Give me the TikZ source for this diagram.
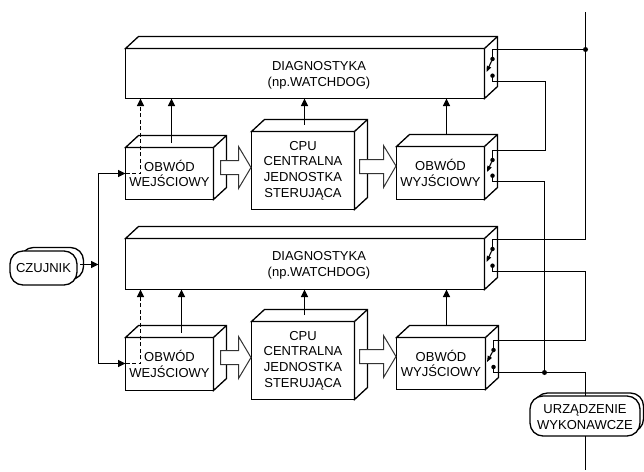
\documentclass[tikz,border=0pt]{standalone}
\usepackage{fontspec}
\setmainfont{Liberation Sans}
\usetikzlibrary{arrows.meta,calc}
\tikzset{
  wire/.style={draw=black,line width=1.3pt,line join=miter},
  arr/.style={wire,-{Triangle[length=7.5pt,width=7pt]}},
  dasharr/.style={arr,dash pattern=on 4pt off 2.5pt},
  swarr/.style={draw=black,line width=1.1pt,-{Triangle[length=6pt,width=4.5pt]}},
  junction/.style={circle,fill=black,inner sep=0pt,minimum size=5pt},
  contact/.style={circle,fill=black,inner sep=0pt,minimum size=4.5pt},
  label/.style={inner sep=0pt,align=center,font=\fontsize{13}{15.8}\selectfont},
  box/.style={draw=black,line width=1.3pt,fill=white,inner sep=0pt,outer sep=0pt,align=center,font=\fontsize{13}{15.8}\selectfont},
  pill/.style={box,rounded corners=13pt},
  bigarrow/.style={draw=black!80,line width=1pt,fill=white,line join=miter}
}
\newcommand{\cuboid}[6]{%
  \node[box,minimum width=#4pt,minimum height=#5pt] (#1) at (#2,#3) {#6};
  \draw[box] (#1.north west) -- ++(13,-12) -- ($(#1.north east)+(13,-12)$) -- ($(#1.south east)+(13,-12)$) -- (#1.south east) -- (#1.north east) -- cycle;
  \draw[box] (#1.north east) -- ++(13,-12);
}
\begin{document}
\begin{tikzpicture}[x=1pt,y=-1pt]
\useasboundingbox (0,0) rectangle (644,471);
% boxes
\cuboid{diagA}{305}{73.5}{359}{50}{}
\node[label] (diagAt) at (319,75.2) {DIAGNOSTYKA\\(np.WATCHDOG)};
\cuboid{inA}{169.5}{173.5}{88}{52}{OBWÓD\\WEJŚCIOWY}
\cuboid{cpuA}{303}{170.5}{103}{78}{CPU\\CENTRALNA\\JEDNOSTKA\\STERUJĄCA}
\cuboid{outA}{440.5}{173}{88}{53}{OBWÓD\\WYJŚCIOWY}
\cuboid{diagB}{305}{264}{359}{51}{}
\node[label] (diagBt) at (319,265.7) {DIAGNOSTYKA\\(np.WATCHDOG)};
\cuboid{inB}{169.5}{364}{88}{53}{OBWÓD\\WEJŚCIOWY}
\cuboid{cpuB}{303}{360.5}{103}{78}{CPU\\CENTRALNA\\JEDNOSTKA\\STERUJĄCA}
\cuboid{outB}{441}{363.5}{89}{52}{OBWÓD\\WYJŚCIOWY}
% big arrows
\draw[bigarrow] (220.5,160.5) -- (238.5,160.5) -- (238.5,146.5) -- (251,167.5) -- (238.5,188.5) -- (238.5,174.5) -- (220.5,174.5) -- cycle;
\draw[bigarrow] (359.5,159.5) -- (383.5,159.5) -- (383.5,145.5) -- (396,166) -- (383.5,187.5) -- (383.5,173.5) -- (359.5,173.5) -- cycle;
\draw[bigarrow] (220.5,350.5) -- (238.5,350.5) -- (238.5,336.5) -- (251,357.5) -- (238.5,378.5) -- (238.5,364.5) -- (220.5,364.5) -- cycle;
\draw[bigarrow] (359.5,349.5) -- (383.5,349.5) -- (383.5,335.5) -- (396,356.5) -- (383.5,377.5) -- (383.5,363.5) -- (359.5,363.5) -- cycle;
% sensor and actuator
\node[pill,minimum width=63pt,minimum height=32pt] (sensB) at (52,263.5) {};
\node[pill,minimum width=67pt,minimum height=34pt] (sens) at (43.5,268) {CZUJNIK};
\node[pill,minimum width=109pt,minimum height=39pt] (actB) at (589,412.5) {};
\node[pill,minimum width=110pt,minimum height=40pt] (act) at (585,416) {};
\node[label] (actt) at (585,417.2) {URZĄDZENIE\\WYKONAWCZE};
% named points
\coordinate (busTop) at (585.5,12);
\coordinate (actBot) at (585.5,470);
\coordinate (feedX) at (98.5,264.5);
\coordinate (feedA) at (98.5,173.5);
\coordinate (feedB) at (98.5,363.5);
\coordinate (sensOut) at (80,264.5);
\coordinate (inAend) at (140.5,173.5);
\coordinate (inBend) at (140.5,363.5);
\coordinate (inAs) at (171.5,143);
\coordinate (inBs) at (181.5,332.7);
\coordinate (cpuAs) at (304.5,124.5);
\coordinate (cpuBs) at (304.5,315);
\coordinate (outAs) at (446.5,134.5);
\coordinate (outBs) at (446.5,325.5);
% switches
\node[contact] (a1) at (492.5,59) {};
\coordinate (a1e) at (486.5,72);
\node[contact] (a2) at (492.5,75.7) {};
\node[contact] (b1) at (492.5,160) {};
\coordinate (b1e) at (487,172);
\node[contact] (b2) at (492.5,175.7) {};
\node[contact] (c1) at (492.5,249) {};
\coordinate (c1e) at (486.5,262);
\node[contact] (c2) at (492.5,265.7) {};
\node[contact] (d1) at (493.5,350) {};
\coordinate (d1e) at (487,362);
\node[contact] (d2) at (493.5,367) {};
\node[junction] (j1) at (585.5,49.5) {};
\node[junction] (j2) at (544.5,372.5) {};
\draw[swarr] (a1) -- (a1e);
\draw[swarr] (b1) -- (b1e);
\draw[swarr] (c1) -- (c1e);
\draw[swarr] (d1) -- (d1e);
% wiring
\draw[wire] (busTop) -- (585.5,239.5) -- (492.5,239.5) -- (c1);
\draw[wire] (a1) -- (492.5,49.5) -- (j1);
\draw[wire] (a2) -- (492.5,81.5) -- (545.5,81.5) -- (545.5,150.5) -- (492.5,150.5) -- (b1);
\draw[wire] (b2) -- (492.5,181.5) -- (544.5,181.5) -- (j2);
\draw[wire] (c2) -- (492.5,271.5) -- (585.5,271.5) -- (585.5,340.5) -- (493.5,340.5) -- (d1);
\draw[wire] (d2) -- (493.5,372.5) -- (585.5,372.5) -- (585.5,396);
\draw[wire] (585.5,436) -- (actBot);
% feed
\draw[arr] (sensOut) -- (feedX);
\draw[arr] (feedB) -- (feedA) -- (inA.west |- feedA);
\draw[arr] (feedB) -- (inB.west |- feedB);
\draw[dasharr] (inA.west |- inAend) -- (inAend) -- (inAend |- diagA.south);
\draw[dasharr] (inB.west |- inBend) -- (inBend) -- (inBend |- diagB.south);
\draw[arr] (inAs) -- (inAs |- diagA.south);
\draw[arr] (inBs) -- (inBs |- diagB.south);
\draw[arr] (cpuAs) -- (cpuAs |- diagA.south);
\draw[arr] (cpuBs) -- (cpuBs |- diagB.south);
\draw[arr] (outAs) -- (outAs |- diagA.south);
\draw[arr] (outBs) -- (outBs |- diagB.south);
\end{tikzpicture}
\end{document}
